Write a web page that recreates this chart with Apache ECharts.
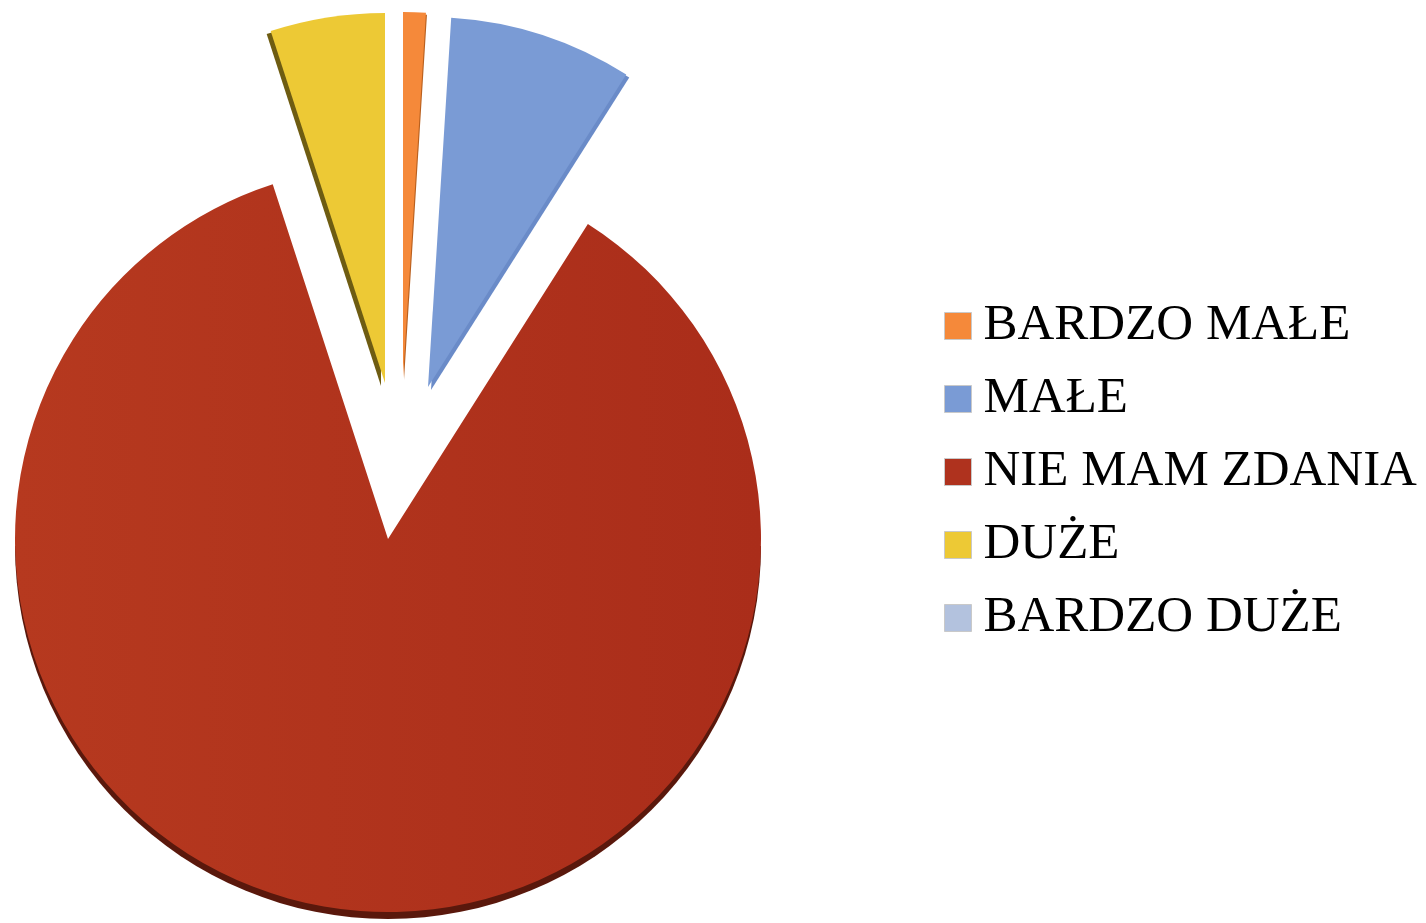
<!DOCTYPE html>
<html>
<head>
<meta charset="utf-8">
<script src="https://cdn.jsdelivr.net/npm/echarts@6/dist/echarts.min.js"></script>
<style>
  html, body { margin: 0; padding: 0; background: #ffffff; }
  #chart { width: 1426px; height: 923px; }
</style>
</head>
<body>
<div id="chart"></div>
<script>
// ---- data ----
const categories = ['BARDZO MAŁE', 'MAŁE', 'NIE MAM ZDANIA', 'DUŻE', 'BARDZO DUŻE'];
const values = [1, 8, 86, 5, 0];

// ---- styles ----
const colors = ['#F5893A', '#7A9BD5', '#AF321E', '#EDC935', '#B3C2DE'];
const fills = [
  '#F5893A',
  '#7A9BD5',
  new echarts.graphic.LinearGradient(0, 0, 1, 0, [
    { offset: 0, color: '#B6391F' },
    { offset: 1, color: '#AA2D1A' }
  ]),
  '#EDC935',
  '#B3C2DE'
];
const rimColors = ['#b9601f', '#6a8bc8', '#5a180c', '#6e5c12', '#8d9bb5'];
const centers = [[403, 378], [428, 387], [388, 539], [385, 383], [388, 539]];
const radii = [366, 370, 373, 370, 373];
const rimOffsets = [[1, 2], [3, 3], [0, 0], [-4, 3], [0, 0]];

const chart = echarts.init(document.getElementById('chart'), null, { renderer: 'canvas' });

const series = [];

// bottom rim (3D edge) of the big slice
series.push({
  type: 'pie',
  silent: true,
  z: 1,
  center: [388, 546],
  radius: 373,
  startAngle: 0,
  endAngle: -180,
  clockwise: true,
  label: { show: false },
  labelLine: { show: false },
  emphasis: { disabled: true },
  data: [{ name: 'rim', value: values[2], itemStyle: { color: rimColors[2] } }]
});

categories.forEach(function (cat, i) {
  if (values[i] <= 0) return;
  series.push({
    type: 'pie',
    silent: true,
    z: 2,
    center: centers[i],
    radius: radii[i],
    startAngle: 90,
    clockwise: true,
    label: { show: false },
    labelLine: { show: false },
    emphasis: { disabled: true },
    data: categories.map(function (n, j) {
      if (j === i) {
        return {
          name: n, value: values[j],
          itemStyle: {
            color: fills[j],
            shadowColor: rimColors[j],
            shadowBlur: 0,
            shadowOffsetX: rimOffsets[j][0],
            shadowOffsetY: rimOffsets[j][1]
          }
        };
      }
      return { name: n, value: values[j], itemStyle: { color: 'rgba(0,0,0,0)' } };
    })
  });
});

chart.setOption({
  animation: false,
  backgroundColor: '#ffffff',
  legend: {
    orient: 'vertical',
    left: 939,
    top: 291,
    icon: 'rect',
    itemWidth: 27,
    itemHeight: 27,
    itemGap: 13,
    selectedMode: false,
    itemStyle: {
      borderColor: '#c9c9c9', borderWidth: 1,
      shadowBlur: 0, shadowOffsetX: 0, shadowOffsetY: 0, shadowColor: 'rgba(0,0,0,0)'
    },
    textStyle: {
      fontFamily: '"Liberation Serif", "DejaVu Serif", serif',
      fontSize: 51,
      color: '#000000',
      lineHeight: 60,
      padding: [0, 0, 0, 7]
    },
    data: categories.map(function (n, i) {
      return { name: n, itemStyle: { color: colors[i] } };
    })
  },
  series: series
});
</script>
</body>
</html>
